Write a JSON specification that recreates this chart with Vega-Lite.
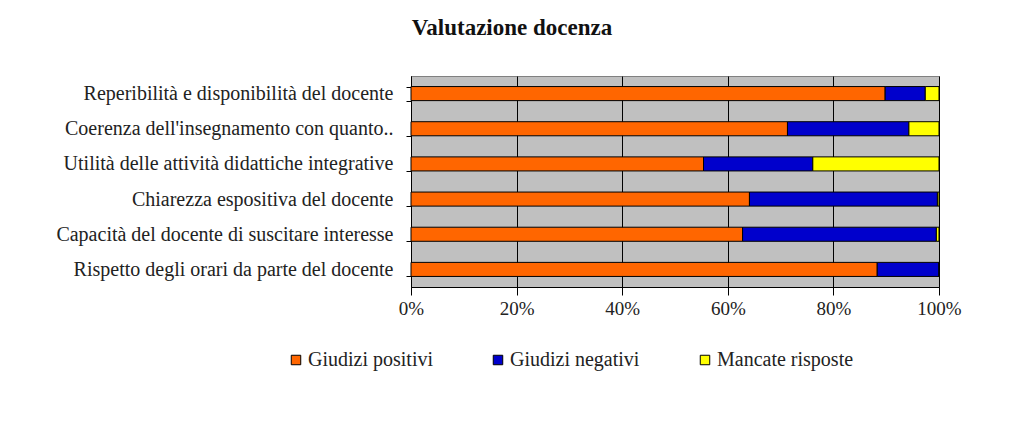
{
  "$schema": "https://vega.github.io/schema/vega-lite/v6.json",
  "width": 528,
  "height": 211,
  "autosize": "none",
  "padding": {"left": 411, "top": 76, "right": 84, "bottom": 145},
  "background": "white",
  "title": {
    "text": "Valutazione docenza",
    "font": "Liberation Serif",
    "fontSize": 23,
    "fontWeight": "bold",
    "color": "#111111",
    "anchor": "middle",
    "frame": "group",
    "dx": -163,
    "baseline": "alphabetic",
    "offset": 8
  },
  "data": {
    "values": [
      {"domanda": "Reperibilità e disponibilità del docente", "serie": "Giudizi positivi", "ordine": 1, "pct": 89.8},
      {"domanda": "Reperibilità e disponibilità del docente", "serie": "Giudizi negativi", "ordine": 2, "pct": 7.6},
      {"domanda": "Reperibilità e disponibilità del docente", "serie": "Mancate risposte", "ordine": 3, "pct": 2.6},
      {"domanda": "Coerenza dell'insegnamento con quanto..", "serie": "Giudizi positivi", "ordine": 1, "pct": 71.3},
      {"domanda": "Coerenza dell'insegnamento con quanto..", "serie": "Giudizi negativi", "ordine": 2, "pct": 23.0},
      {"domanda": "Coerenza dell'insegnamento con quanto..", "serie": "Mancate risposte", "ordine": 3, "pct": 5.7},
      {"domanda": "Utilità delle attività didattiche integrative", "serie": "Giudizi positivi", "ordine": 1, "pct": 55.4},
      {"domanda": "Utilità delle attività didattiche integrative", "serie": "Giudizi negativi", "ordine": 2, "pct": 20.7},
      {"domanda": "Utilità delle attività didattiche integrative", "serie": "Mancate risposte", "ordine": 3, "pct": 23.9},
      {"domanda": "Chiarezza espositiva del docente", "serie": "Giudizi positivi", "ordine": 1, "pct": 64.1},
      {"domanda": "Chiarezza espositiva del docente", "serie": "Giudizi negativi", "ordine": 2, "pct": 35.6},
      {"domanda": "Chiarezza espositiva del docente", "serie": "Mancate risposte", "ordine": 3, "pct": 0.3},
      {"domanda": "Capacità del docente di suscitare interesse", "serie": "Giudizi positivi", "ordine": 1, "pct": 62.8},
      {"domanda": "Capacità del docente di suscitare interesse", "serie": "Giudizi negativi", "ordine": 2, "pct": 36.7},
      {"domanda": "Capacità del docente di suscitare interesse", "serie": "Mancate risposte", "ordine": 3, "pct": 0.5},
      {"domanda": "Rispetto degli orari da parte del docente", "serie": "Giudizi positivi", "ordine": 1, "pct": 88.3},
      {"domanda": "Rispetto degli orari da parte del docente", "serie": "Giudizi negativi", "ordine": 2, "pct": 11.7},
      {"domanda": "Rispetto degli orari da parte del docente", "serie": "Mancate risposte", "ordine": 3, "pct": 0}
    ]
  },
  "mark": {"type": "bar", "stroke": "#000000", "strokeWidth": 1},
  "encoding": {
    "y": {
      "field": "domanda",
      "type": "nominal",
      "sort": [
        "Reperibilità e disponibilità del docente",
        "Coerenza dell'insegnamento con quanto..",
        "Utilità delle attività didattiche integrative",
        "Chiarezza espositiva del docente",
        "Capacità del docente di suscitare interesse",
        "Rispetto degli orari da parte del docente"
      ],
      "scale": {"paddingInner": 0.6, "paddingOuter": 0.3},
      "axis": {
        "title": null,
        "tickBand": "extent",
        "tickSize": 5,
        "tickColor": "#000000",
        "domainColor": "#000000",
        "labelFont": "Liberation Serif",
        "labelFontSize": 20,
        "labelColor": "#222222",
        "labelPadding": 13,
        "labelLimit": 400,
        "grid": false
      }
    },
    "x": {
      "field": "pct",
      "type": "quantitative",
      "stack": "normalize",
      "scale": {"domain": [0, 1]},
      "axis": {
        "title": null,
        "format": ".0%",
        "values": [0, 0.2, 0.4, 0.6, 0.8, 1],
        "grid": true,
        "gridColor": "#000000",
        "gridOpacity": 1,
        "tickColor": "#000000",
        "tickSize": 8,
        "domainColor": "#000000",
        "labelFlush": false,
        "labelFont": "Liberation Serif",
        "labelFontSize": 19,
        "labelColor": "#222222",
        "labelPadding": 4
      }
    },
    "order": {"field": "ordine", "type": "quantitative", "sort": "ascending"},
    "color": {
      "field": "serie",
      "type": "nominal",
      "sort": ["Giudizi positivi", "Giudizi negativi", "Mancate risposte"],
      "scale": {
        "domain": ["Giudizi positivi", "Giudizi negativi", "Mancate risposte"],
        "range": ["#FF6600", "#0000CC", "#FFFF00"]
      },
      "legend": {
        "title": null,
        "orient": "none",
        "direction": "horizontal",
        "legendX": -125,
        "legendY": 274,
        "padding": 0,
        "symbolType": "square",
        "symbolSize": 90,
        "symbolStrokeColor": "#000000",
        "symbolStrokeWidth": 1,
        "labelFont": "Liberation Serif",
        "labelFontSize": 20,
        "labelColor": "#222222",
        "labelOffset": 2,
        "columnPadding": 55
      }
    }
  },
  "config": {
    "view": {"fill": "#C0C0C0", "stroke": "#808080"}
  }
}
